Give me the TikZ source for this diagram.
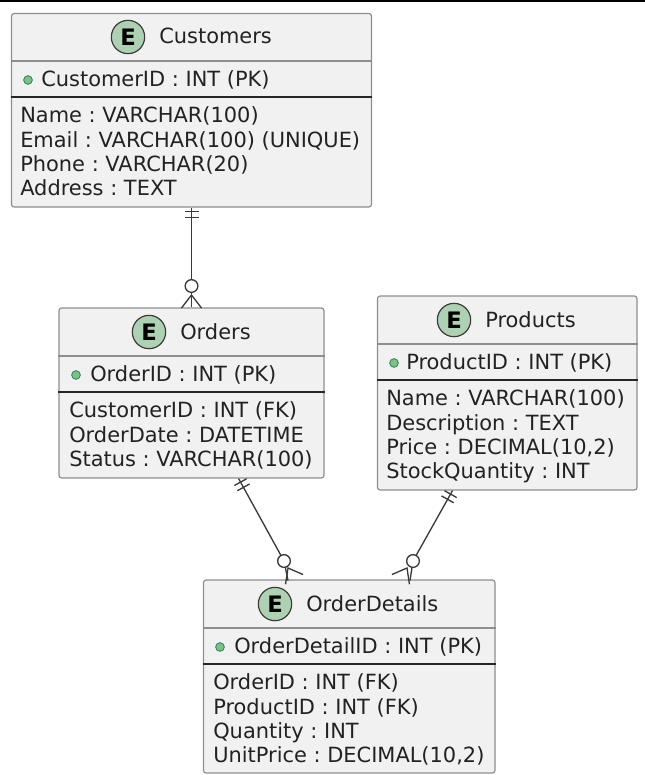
\documentclass[tikz,border=0pt]{standalone}
\usepackage{fontspec}
\setmainfont{DejaVu Sans}
\usetikzlibrary{fit,decorations.markings}
\definecolor{boxfill}{HTML}{F1F1F1}
\definecolor{boxline}{HTML}{8E8E8E}
\definecolor{inkline}{HTML}{3A3A3A}
\definecolor{inktext}{HTML}{222222}
\definecolor{badgefill}{HTML}{ADD1B2}
\definecolor{dotfill}{HTML}{84BE84}
\definecolor{dotline}{HTML}{2F8F5F}
\begin{document}
\frenchspacing
\begin{tikzpicture}[
    x=0.75pt,y=-0.75pt,
    entity/.style={draw=boxline,fill=boxfill,line width=0.9pt,rounded corners=2pt,inner sep=0pt},
    headrule/.style={draw=boxline,line width=0.9pt},
    keyrule/.style={draw=black!85,line width=1pt},
    badge/.style={draw=inkline,fill=badgefill,circle,line width=0.9pt,minimum size=25pt,inner sep=0pt,text=black,font=\fontsize{17}{17}\selectfont\bfseries},
    keydot/.style={draw=dotline,fill=dotfill,circle,line width=0.7pt,minimum size=6.5pt,inner sep=0pt},
    rowtext/.style={anchor=base west,inner sep=0pt,text=inktext,font=\fontsize{15.7}{15.7}\selectfont},
    link/.style={draw=inkline,line width=1pt},
    zeromark/.style={draw=inkline,fill=white,circle,line width=1pt,minimum size=9.5pt,inner sep=0pt},
    onlyone/.style={postaction={decorate},decoration={markings,
        mark=at position 3pt with {\draw[link] (0,-7)--(0,7);},
        mark=at position 7.5pt with {\draw[link] (0,-7)--(0,7);}}},
    crowfoot/.pic={\draw[link] (-10,13)--(0,0)--(10,13);}
]
\useasboundingbox (0,0) rectangle (645,775);
\fill[black] (0,0) rectangle (645,2);

% Customers
\node[entity,fit={(11.5,13.5)(371.5,207)}] (customers) {};
\draw[headrule] (customers.west |- 0,61) -- (customers.east |- 0,61);
\draw[keyrule] (customers.west |- 0,97) -- (customers.east |- 0,97);
\node[badge] (customersbadge) at (128,37) {E};
\node[rowtext] (customerstitle) at (159,43.5) {Customers};
\node[keydot] (customersdot) at (28,80) {};
\node[rowtext] (customerskey) at (41,86) {CustomerID : INT (PK)};
\foreach \rowlabel/\rowy in {{Name : VARCHAR(100)}/122,{Email : VARCHAR(100) (UNIQUE)}/147,{Phone : VARCHAR(20)}/171,{Address : TEXT}/195.5}
    \node[rowtext] (customers\rowy) at (20,\rowy) {\rowlabel};

% Orders
\node[entity,fit={(59,308)(324,478)}] (orders) {};
\draw[headrule] (orders.west |- 0,356) -- (orders.east |- 0,356);
\draw[keyrule] (orders.west |- 0,392) -- (orders.east |- 0,392);
\node[badge] (ordersbadge) at (149,332) {E};
\node[rowtext] (orderstitle) at (180,339) {Orders};
\node[keydot] (ordersdot) at (76,375) {};
\node[rowtext] (orderskey) at (90,381) {OrderID : INT (PK)};
\foreach \rowlabel/\rowy in {{CustomerID : INT (FK)}/417,{OrderDate : DATETIME}/442,{Status : VARCHAR(100)}/466}
    \node[rowtext] (orders\rowy) at (69,\rowy) {\rowlabel};

% Products
\node[entity,fit={(377.5,296)(637,490)}] (products) {};
\draw[headrule] (products.west |- 0,344) -- (products.east |- 0,344);
\draw[keyrule] (products.west |- 0,380) -- (products.east |- 0,380);
\node[badge] (productsbadge) at (454,320) {E};
\node[rowtext] (productstitle) at (485,327) {Products};
\node[keydot] (productsdot) at (394,363) {};
\node[rowtext] (productskey) at (406,369) {ProductID : INT (PK)};
\foreach \rowlabel/\rowy in {{Name : VARCHAR(100)}/405,{Description : TEXT}/430,{Price : DECIMAL(10,2)}/454,{StockQuantity : INT}/478}
    \node[rowtext] (products\rowy) at (386,\rowy) {\rowlabel};

% OrderDetails
\node[entity,fit={(203.5,580)(495,773)}] (details) {};
\draw[headrule] (details.west |- 0,628) -- (details.east |- 0,628);
\draw[keyrule] (details.west |- 0,664) -- (details.east |- 0,664);
\node[badge] (detailsbadge) at (275,604) {E};
\node[rowtext] (detailstitle) at (306,611) {OrderDetails};
\node[keydot] (detailsdot) at (220,647) {};
\node[rowtext] (detailskey) at (234,653) {OrderDetailID : INT (PK)};
\foreach \rowlabel/\rowy in {{OrderID : INT (FK)}/689,{ProductID : INT (FK)}/714,{Quantity : INT}/738,{UnitPrice : DECIMAL(10,2)}/762}
    \node[rowtext] (details\rowy) at (213,\rowy) {\rowlabel};

% relations
\coordinate (customersbend) at (191.5,286);
\coordinate (ordersbend) at (284,561);
\coordinate (productsbend) at (413,561);
\coordinate (orderdock) at (288,580.5);
\coordinate (productdock) at (410,580.5);
\draw[link,onlyone] (customers) -- (customersbend) -- (orders);
\draw[link,onlyone] (orders) -- (ordersbend) -- (orderdock);
\draw[link,onlyone] (products) -- (productsbend) -- (productdock);
\node[zeromark] (customerszero) at (customersbend) {};
\node[zeromark] (orderszero) at (ordersbend) {};
\node[zeromark] (productszero) at (productsbend) {};
\pic at (191.5,295) {crowfoot};
\pic[rotate=29] at (288,568) {crowfoot};
\pic[rotate=-29] at (407,568) {crowfoot};
\end{tikzpicture}
\end{document}
